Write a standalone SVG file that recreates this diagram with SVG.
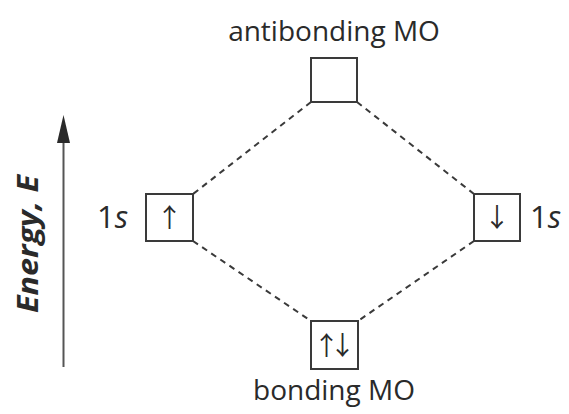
<svg xmlns="http://www.w3.org/2000/svg" width="569" height="414" viewBox="0 0 569 414">
<style>
.box{fill:#fff;stroke:#3a3a3a;stroke-width:2}
.dash{fill:none;stroke:#3a3a3a;stroke-width:2;stroke-dasharray:6 5}
.lbl{font-family:"Open Sans","Liberation Sans",sans-serif;font-size:28px;fill:#2a2a2a}
.one{font-family:"Open Sans","Liberation Sans",sans-serif;font-size:31px;fill:#2a2a2a}
.arr{font-family:"Noto Sans CJK JP","DejaVu Sans",sans-serif;font-size:26px;fill:#2a2a2a;text-anchor:middle}
</style>
<rect width="569" height="414" fill="#fff"/>
<g id="connectors">
<line class="dash" x1="311" y1="102" x2="193" y2="194"/>
<line class="dash" x1="357" y1="102" x2="474" y2="194"/>
<line class="dash" x1="193" y1="241" x2="311" y2="321"/>
<line class="dash" x1="474" y1="241" x2="358" y2="321"/>
</g>
<g id="axis">
<line x1="63.5" y1="138" x2="63.5" y2="367" stroke="#555" stroke-width="2"/>
<polygon points="63.5,115 57,143 70,143" fill="#2a2a2a"/>
<text transform="translate(38,244) rotate(-90)" text-anchor="middle" style="font-family:'Open Sans','Liberation Sans',sans-serif;font-weight:bold;font-style:italic;font-size:28px;fill:#2a2a2a" textLength="138" lengthAdjust="spacingAndGlyphs">Energy, E</text>
</g>
<g id="antibonding">
<rect class="box" x="311" y="58" width="46" height="44"/>
<text class="lbl" x="334" y="41" text-anchor="middle">antibonding MO</text>
</g>
<g id="left1s">
<rect class="box" x="146" y="194" width="47" height="47"/>
<text class="arr" x="169.5" y="227">↑</text>
<text class="one" x="97" y="228">1<tspan font-style="italic">s</tspan></text>
</g>
<g id="right1s">
<rect class="box" x="474" y="194" width="46" height="47"/>
<text class="arr" x="497" y="227">↓</text>
<text class="one" x="530" y="228">1<tspan font-style="italic">s</tspan></text>
</g>
<g id="bonding">
<rect class="box" x="311" y="321" width="47" height="48"/>
<text class="arr" x="313.5" y="355" style="text-anchor:start;letter-spacing:-10px">↑↓</text>
<text class="lbl" x="334" y="400" text-anchor="middle">bonding MO</text>
</g>
</svg>
